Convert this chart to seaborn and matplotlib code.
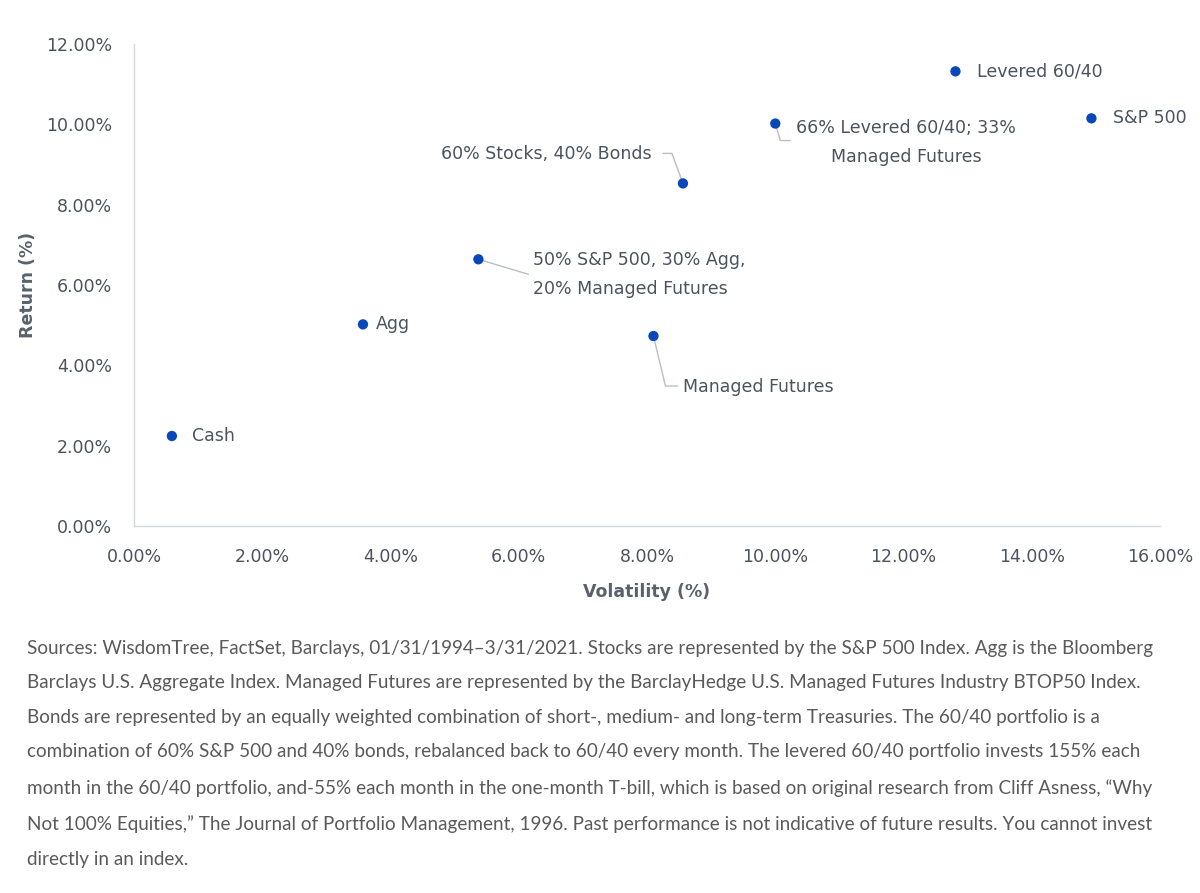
import numpy as np
import pandas as pd
import matplotlib
matplotlib.use("Agg")
import matplotlib.pyplot as plt
from matplotlib.ticker import FuncFormatter
import seaborn as sns

# ---- data ----
names = ["Cash", "Agg", "50% S&P 500, 30% Agg,\n20% Managed Futures", "Managed Futures",
         "60% Stocks, 40% Bonds", "66% Levered 60/40; 33%\nManaged Futures",
         "Levered 60/40", "S&P 500"]
volatility = [0.59, 3.57, 5.37, 8.10, 8.56, 10.00, 12.81, 14.93]
returns = [2.24, 5.02, 6.64, 4.73, 8.53, 10.02, 11.32, 10.15]

x_ticks = [0, 2, 4, 6, 8, 10, 12, 14, 16]
y_ticks = [0, 2, 4, 6, 8, 10, 12]

footnote = (
    "Sources: WisdomTree, FactSet, Barclays, 01/31/1994\u20133/31/2021. Stocks are represented by the S&P 500 Index. Agg is the Bloomberg\n"
    "Barclays U.S. Aggregate Index. Managed Futures are represented by the BarclayHedge U.S. Managed Futures Industry BTOP50 Index.\n"
    "Bonds are represented by an equally weighted combination of short-, medium- and long-term Treasuries. The 60/40 portfolio is a\n"
    "combination of 60% S&P 500 and 40% bonds, rebalanced back to 60/40 every month. The levered 60/40 portfolio invests 155% each\n"
    "month in the 60/40 portfolio, and-55% each month in the one-month T-bill, which is based on original research from Cliff Asness, \u201cWhy\n"
    "Not 100% Equities,\u201d The Journal of Portfolio Management, 1996. Past performance is not indicative of future results. You cannot invest\n"
    "directly in an index."
)

df = pd.DataFrame({"name": names, "vol": volatility, "ret": returns})

sns.set_theme(style="white")
plt.rcParams["font.family"] = ["DejaVu Sans"]

text_col = "#4a535e"
line_col = "#b9bec4"
dot_col = "#0a47b9"

fig = plt.figure(figsize=(12, 8.93), dpi=100)
ax = fig.add_axes([0.1117, 0.411, 0.855, 0.5397])

sns.scatterplot(data=df, x="vol", y="ret", ax=ax, color=dot_col, s=55,
                edgecolor="none", zorder=3)

ax.set_xlim(0, 16)
ax.set_ylim(0, 12)
ax.set_xticks(x_ticks)
ax.set_yticks(y_ticks)
fmt = FuncFormatter(lambda v, p: f"{v:.2f}%")
ax.xaxis.set_major_formatter(fmt)
ax.yaxis.set_major_formatter(fmt)
ax.tick_params(axis="x", length=0, labelsize=12.5, colors=text_col, pad=16)
ax.tick_params(axis="y", length=0, labelsize=12.5, colors=text_col, pad=16)

for side in ["top", "right"]:
    ax.spines[side].set_visible(False)
for side in ["left", "bottom"]:
    ax.spines[side].set_color("#d5d9de")
    ax.spines[side].set_linewidth(1.0)

ax.set_xlabel("Volatility (%)", fontsize=12.5, fontweight="bold", color="#59626c", labelpad=12)
ax.set_ylabel("Return (%)", fontsize=12.5, fontweight="bold", color="#59626c", labelpad=6)

# pixel -> data scale, for label offsets
px_x = 16 / 1026.0
px_y = 12 / 482.0

# label placement: (dx px, dy px, ha, leader path in px offsets or None)
layout = {
    "Cash": (20, 0, "left", None),
    "Agg": (13, 0, "left", None),
    "50% S&P 500, 30% Agg,\n20% Managed Futures": (55, -15, "left", [(0, 0), (50, -15)]),
    "Managed Futures": (30, -51, "left", [(0, 0), (12, -50), (24, -50)]),
    "60% Stocks, 40% Bonds": (-31, 29, "right", [(0, 0), (-11, 30), (-20, 30)]),
    "66% Levered 60/40; 33%\nManaged Futures": (131, -19, "center", [(0, 0), (5, -17), (15, -17)]),
    "Levered 60/40": (22, 0, "left", None),
    "S&P 500": (22, 0, "left", None),
}

for _, row in df.iterrows():
    dx, dy, ha, path = layout[row["name"]]
    ax.text(row["vol"] + dx * px_x, row["ret"] + dy * px_y, row["name"],
            ha=ha, va="center", fontsize=12.5, color=text_col,
            linespacing=1.75)
    if path:
        xs = [row["vol"] + p[0] * px_x for p in path]
        ys = [row["ret"] + p[1] * px_y for p in path]
        ax.plot(xs, ys, color=line_col, lw=1.0, zorder=2)

fig.text(0.0225, 0.2834, footnote, ha="left", va="top", fontsize=13.6,
         color="#5a5a5a", linespacing=2.25, family=["Lato", "DejaVu Sans"])

fig.savefig("out.png", dpi=100)
